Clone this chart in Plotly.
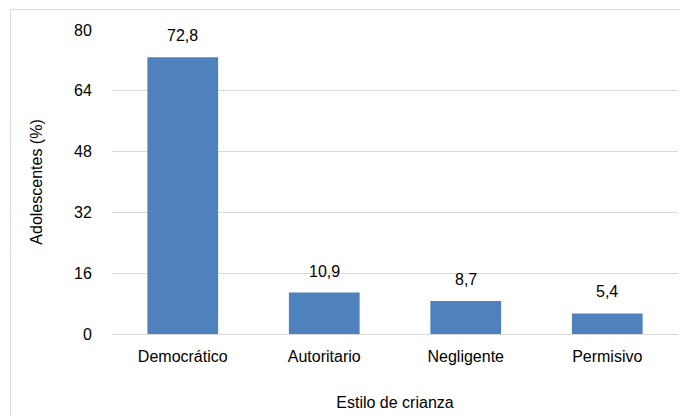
import plotly.graph_objects as go

categories = ["Democrático", "Autoritario", "Negligente", "Permisivo"]
values = [72.8, 10.9, 8.7, 5.4]
y_ticks = [0, 16, 32, 48, 64, 80]

FONT = "Liberation Sans, Arial, sans-serif"

fig = go.Figure(go.Bar(
    x=categories, y=values,
    marker=dict(color="#4F81BD", line=dict(width=0)),
    width=0.5, hoverinfo="x+y",
))

for c, v in zip(categories, values):
    fig.add_annotation(
        x=c, y=v, xref="x", yref="y",
        text=f"{v:.1f}".replace(".", ","),
        showarrow=False, yanchor="bottom", yshift=11,
        font=dict(family=FONT, size=16, color="#000000"),
    )

# page has an 8px body margin; compensate so the chart lands where the reference is
W, H = 680, 408
L, R, T, B = 104, 10, 22, 82
pw, ph = W - L - R, H - T - B

fig.update_layout(
    width=W, height=H,
    margin=dict(l=L, r=R, t=T, b=B, autoexpand=False),
    paper_bgcolor="white", plot_bgcolor="white",
    separators=",.",
    font=dict(family=FONT, size=16, color="#000000"),
    showlegend=False,
    xaxis=dict(
        showgrid=False, showline=True, linecolor="#d9d9d9", linewidth=1,
        ticks="outside", ticklen=8, tickcolor="rgba(0,0,0,0)",
        tickfont=dict(size=16),
        title=dict(text="Estilo de crianza", font=dict(size=16), standoff=32),
    ),
    yaxis=dict(
        range=[0, 80], tickvals=y_ticks, showgrid=True, gridcolor="#d9d9d9",
        gridwidth=1, zeroline=False, showline=False,
        ticks="outside", ticklen=16, tickcolor="rgba(0,0,0,0)",
        tickfont=dict(size=16),
        title=dict(text="Adolescentes (%)", font=dict(size=16), standoff=27),
    ),
    shapes=[dict(
        type="rect", xref="paper", yref="paper",
        x0=(2.5 - L) / pw, x1=(W + 20 - L) / pw,
        y0=-(B + 20) / ph, y1=(ph + T - 1.5) / ph,
        line=dict(color="#d9d9d9", width=1), fillcolor="rgba(0,0,0,0)",
        layer="below",
    )],
)

fig.write_html("out.html")
